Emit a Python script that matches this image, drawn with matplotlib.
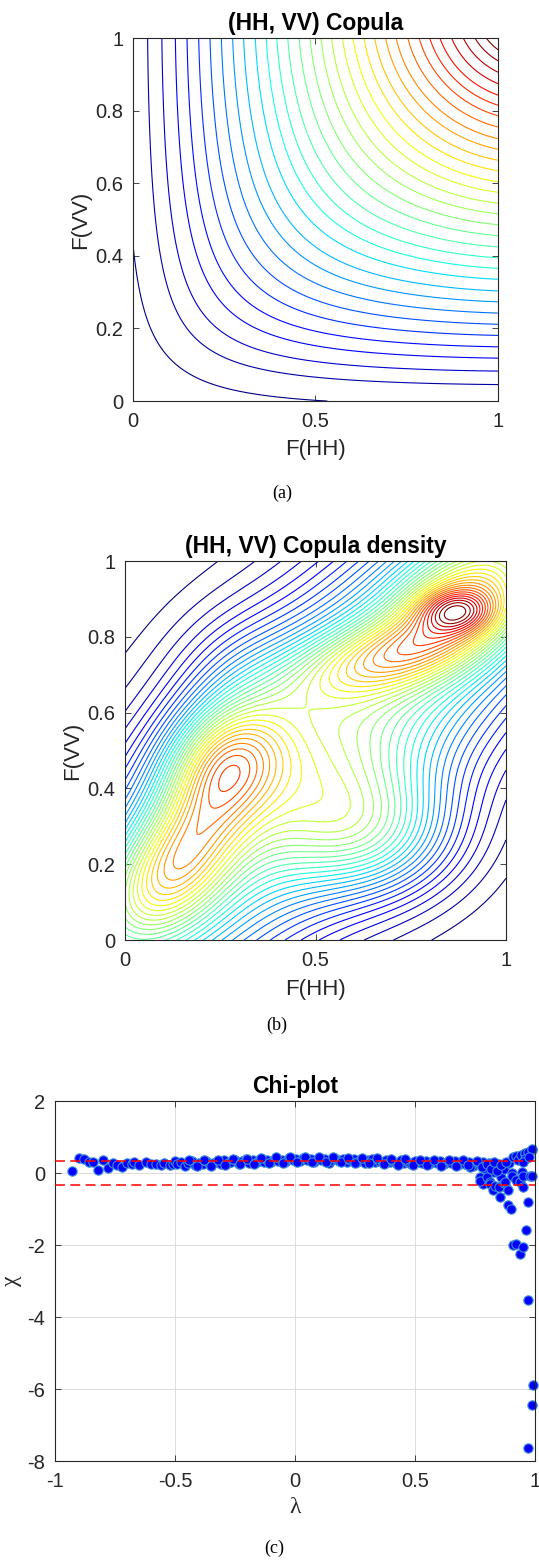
import math
import numpy as np
import matplotlib
matplotlib.use('Agg')
import matplotlib.pyplot as plt

plt.rcParams['font.family'] = ['Liberation Sans', 'DejaVu Sans']
plt.rcParams['axes.unicode_minus'] = False

# --- (a) copula CDF: Frank copula smoothed with a gaussian kernel ---
frank_theta = 3.5
kernel_bw_hh = 0.10
kernel_bw_vv = 0.09
# where the CDF contours cut the top edge F(VV) = 1
cdf_top_cuts = [0.040, 0.079, 0.116, 0.148, 0.180, 0.211, 0.242, 0.273, 0.303, 0.335,
                0.365, 0.394, 0.424, 0.455, 0.485, 0.515, 0.544, 0.574, 0.603, 0.633,
                0.662, 0.692, 0.721, 0.753, 0.784, 0.813, 0.841, 0.873, 0.905, 0.937, 0.968]
cdf_left_cut = 0.43   # lowest contour meets F(HH) = 0 here

# --- (b) copula density: kernel bumps (centre u, centre v, sd u, sd v, corr, height) ---
bump_u = [0.50, 0.87, 0.90, 0.68, 0.26, 0.17, 0.11, 0.50, 0.65, 0.30]
bump_v = [0.50, 0.87, 0.90, 0.75, 0.47, 0.30, 0.16, 0.50, 0.28, 0.70]
bump_su = [0.655, 0.07, 0.14, 0.17, 0.11, 0.10, 0.12, 0.20, 0.16, 0.12]
bump_sv = [0.655, 0.04, 0.12, 0.08, 0.11, 0.10, 0.12, 0.20, 0.12, 0.12]
bump_rho = [0.887, 0.0, 0.4, 0.5, 0.2, 0.3, 0.4, 0.0, 0.0, 0.0]
bump_h = [0.45, 0.20, 0.35, 0.26, 0.37, 0.12, 0.30, 0.08, 0.25, 0.06]
n_density_levels = 40

# --- (c) chi-plot points ---
chi_lambda = [-0.93, -0.90, -0.88, -0.86, -0.84, -0.82, -0.80, -0.78, -0.76, -0.74,
              -0.72, -0.70, -0.68, -0.67, -0.65, -0.62, -0.60, -0.58, -0.56, -0.545,
              -0.52, -0.51, -0.50,
              -0.49, -0.475, -0.46, -0.445, -0.43, -0.415, -0.40, -0.385, -0.37, -0.355,
              -0.34, -0.325, -0.31, -0.295, -0.28, -0.265, -0.25, -0.235, -0.22, -0.205,
              -0.19, -0.175, -0.16, -0.145, -0.13, -0.115, -0.10, -0.085, -0.07, -0.055,
              -0.04, -0.025, -0.01, 0.005, 0.02, 0.035, 0.05, 0.065, 0.08, 0.095,
              0.11, 0.125, 0.14, 0.155, 0.17, 0.185, 0.20, 0.215, 0.23, 0.245,
              0.26, 0.275, 0.29, 0.305, 0.32, 0.335, 0.35, 0.365, 0.38, 0.395,
              0.41, 0.425, 0.44, 0.455, 0.47, 0.485, 0.50, 0.515, 0.53, 0.545,
              0.56, 0.575, 0.59, 0.605, 0.62, 0.635, 0.65, 0.665, 0.68, 0.695,
              0.71, 0.725, 0.74, 0.755, 0.77, 0.785,
              -0.44, -0.41, -0.38, -0.35, -0.32, -0.29, -0.26, -0.23, -0.20, -0.17,
              -0.14, -0.11, -0.08, -0.05, -0.02, 0.01, 0.04, 0.07, 0.10, 0.13,
              0.16, 0.19, 0.22, 0.25, 0.28, 0.31, 0.34, 0.37, 0.40, 0.43,
              0.46, 0.49, 0.52, 0.55, 0.58, 0.61, 0.64, 0.67, 0.70, 0.73,
              0.76, 0.79, 0.81, 0.83, 0.85, 0.86, 0.87, 0.88, 0.89,
              0.72, 0.77, 0.78, 0.785, 0.77, 0.80, 0.80, 0.8125, 0.8125, 0.815,
              0.826, 0.833, 0.83, 0.84, 0.851, 0.854, 0.86, 0.871, 0.875, 0.88,
              0.889, 0.889, 0.899, 0.903, 0.903, 0.907, 0.91, 0.92, 0.921, 0.92,
              0.93, 0.9375, 0.9375, 0.94, 0.944, 0.949, 0.951, 0.951, 0.958, 0.96,
              0.9625, 0.97, 0.972, 0.972, 0.972, 0.979, 0.986, 0.986, 0.986, 0.986,
              0.99, 0.96, 0.95, 0.975]
chi_value = [0.05, 0.42, 0.40, 0.32, 0.31, 0.09, 0.36, 0.15, 0.27, 0.22,
             0.17, 0.27, 0.25, 0.32, 0.22, 0.30, 0.24, 0.25, 0.21, 0.28,
             0.22, 0.25, 0.33,
             0.24, 0.31, 0.20, 0.27, 0.33, 0.22, 0.29, 0.25, 0.34, 0.21,
             0.28, 0.31, 0.24, 0.35, 0.27, 0.30, 0.36, 0.26, 0.33, 0.38,
             0.29, 0.35, 0.31, 0.39, 0.32, 0.36, 0.30, 0.40, 0.34, 0.37,
             0.32, 0.41, 0.36, 0.39, 0.33, 0.42, 0.36, 0.38, 0.31, 0.40,
             0.35, 0.39, 0.29, 0.37, 0.40, 0.33, 0.38, 0.30, 0.36, 0.39,
             0.32, 0.37, 0.28, 0.35, 0.38, 0.30, 0.34, 0.27, 0.36, 0.31,
             0.33, 0.26, 0.35, 0.29, 0.32, 0.25, 0.34, 0.30, 0.27, 0.33,
             0.24, 0.31, 0.28, 0.34, 0.25, 0.30, 0.27, 0.33, 0.22, 0.29,
             0.26, 0.32, 0.19, 0.28, 0.24, 0.31,
             0.36, 0.19, 0.35, 0.20, 0.37, 0.22, 0.38, 0.24, 0.40, 0.26,
             0.42, 0.27, 0.44, 0.29, 0.45, 0.30, 0.45, 0.30, 0.44, 0.31,
             0.44, 0.30, 0.43, 0.29, 0.42, 0.27, 0.41, 0.25, 0.39, 0.23,
             0.38, 0.22, 0.37, 0.21, 0.36, 0.20, 0.36, 0.19, 0.35, 0.16,
             0.33, 0.12, 0.28, 0.02, 0.25, -0.12, 0.12, -0.40, 0.28,
             0.21, -0.11, 0.17, -0.30, -0.21, -0.11, 0.25, -0.25, -0.30, 0.10,
             -0.47, -0.35, 0.30, 0.05, -0.39, -0.67, 0.22, -0.28, -0.25, 0.32,
             -0.47, -0.90, -1.00, 0.00, -0.07, -2.00, 0.44, -0.20, -1.96, 0.46,
             0.35, -0.25, -2.24, 0.50, 0.03, -2.04, -0.07, -0.39, 0.52, 0.55,
             -1.58, 0.59, -0.81, -3.53, -7.64, -0.07, 0.65, -0.07, 0.68, -6.43,
             -5.89, 0.40, 0.30, 0.45]
chi_limit = 0.345

ink = '#262626'


def style_axes(ax):
    for sp in ax.spines.values():
        sp.set_color(ink)
        sp.set_linewidth(0.8)
    ax.tick_params(direction='in', length=4, width=0.6, colors=ink,
                   labelsize=14.5, top=True, right=True)
    ax.tick_params(axis='x', pad=8)
    ax.tick_params(axis='y', pad=7)


def phi_matrix(grid, centres, bw):
    # K[i, j] = Phi((grid_j - centre_i) / bw)
    erf = np.vectorize(math.erf)
    return 0.5 * (1 + erf((grid[None, :] - centres[:, None]) / (bw * math.sqrt(2))))


fig = plt.figure(figsize=(5.39, 15.66), dpi=100)

# ---------------- (a) ----------------
s = (np.arange(200) + 0.5) / 200
X, Y = np.meshgrid(s, s)
et = math.exp(-frank_theta)
dens = frank_theta * (1 - et) * np.exp(-frank_theta * (X + Y)) / \
    ((1 - et) - (1 - np.exp(-frank_theta * X)) * (1 - np.exp(-frank_theta * Y))) ** 2
dens = dens / dens.sum()
g = np.linspace(0, 1, 201)
Ku = phi_matrix(g, s, kernel_bw_hh)
Kv = phi_matrix(g, s, kernel_bw_vv)
S = Kv.T @ dens @ Ku
lv = [np.interp(cdf_left_cut, g, S[:, 0])] + list(np.interp(cdf_top_cuts, g, S[-1, :]))

ax1 = fig.add_axes([0.2468, 0.7439, 0.677, 0.2318])
ax1.contour(g, g, S, levels=lv, cmap='jet', linewidths=0.8)
ax1.set_xlim(0, 1)
ax1.set_ylim(0, 1)
ax1.set_xticks([0, 0.5, 1])
ax1.set_xticklabels(['0', '0.5', '1'])
ax1.set_yticks([0, 0.2, 0.4, 0.6, 0.8, 1])
ax1.set_yticklabels(['0', '0.2', '0.4', '0.6', '0.8', '1'])
style_axes(ax1)
ax1.set_title('(HH, VV) Copula', fontsize=16.5, fontweight='bold', pad=6)
ax1.set_xlabel('F(HH)', fontsize=16, color=ink, labelpad=6)
ax1.set_ylabel('F(VV)', fontsize=16, color=ink, labelpad=3)
fig.text(0.523, 0.685, '(a)', ha='center', va='center', fontsize=13, family='Liberation Serif')

# ---------------- (b) ----------------
U, V = np.meshgrid(g, g)
Z = np.zeros_like(U)
for cu, cv, su, sv, r, h in zip(bump_u, bump_v, bump_su, bump_sv, bump_rho, bump_h):
    du = (U - cu) / su
    dv = (V - cv) / sv
    q = (du ** 2 - 2 * r * du * dv + dv ** 2) / (1 - r ** 2)
    Z += h * np.exp(-0.5 * q)
lv2 = np.linspace(Z.min(), Z.max(), n_density_levels + 2)[1:-1]

ax2 = fig.add_axes([0.2319, 0.3997, 0.7069, 0.2420])
ax2.contour(g, g, Z, levels=lv2, cmap='jet', linewidths=0.8)
ax2.set_xlim(0, 1)
ax2.set_ylim(0, 1)
ax2.set_xticks([0, 0.5, 1])
ax2.set_xticklabels(['0', '0.5', '1'])
ax2.set_yticks([0, 0.2, 0.4, 0.6, 0.8, 1])
ax2.set_yticklabels(['0', '0.2', '0.4', '0.6', '0.8', '1'])
style_axes(ax2)
ax2.set_title('(HH, VV) Copula density', fontsize=16.5, fontweight='bold', pad=6)
ax2.set_xlabel('F(HH)', fontsize=16, color=ink, labelpad=6)
ax2.set_ylabel('F(VV)', fontsize=16, color=ink, labelpad=3)
fig.text(0.513, 0.3455, '(b)', ha='center', va='center', fontsize=13, family='Liberation Serif')

# ---------------- (c) ----------------
ax3 = fig.add_axes([0.102, 0.0670, 0.8905, 0.2299])
ax3.grid(True, color='#dcdcdc', linewidth=0.7)
ax3.set_axisbelow(True)
ax3.scatter(chi_lambda, chi_value, s=45, facecolor='#0000ff', edgecolor='#3d8fd6',
            linewidth=0.8, clip_on=False, zorder=2)
for yl in (chi_limit, -chi_limit):
    ax3.axhline(yl, color='red', linestyle=(0, (6.5, 3.5)), linewidth=1.1, zorder=3)
ax3.set_xlim(-1, 1)
ax3.set_ylim(-8, 2)
ax3.set_xticks([-1, -0.5, 0, 0.5, 1])
ax3.set_xticklabels(['-1', '-0.5', '0', '0.5', '1'])
ax3.set_yticks([-8, -6, -4, -2, 0, 2])
ax3.set_yticklabels(['-8', '-6', '-4', '-2', '0', '2'])
style_axes(ax3)
ax3.set_title('Chi-plot', fontsize=16.5, fontweight='bold', pad=6)
ax3.set_xlabel('λ', fontsize=17, color=ink, family='Liberation Serif', labelpad=4)
ax3.set_ylabel('χ', fontsize=17, color=ink, family='Liberation Serif', labelpad=4)
fig.text(0.508, 0.0115, '(c)', ha='center', va='center', fontsize=13, family='Liberation Serif')

fig.savefig('out.png', dpi=100)
